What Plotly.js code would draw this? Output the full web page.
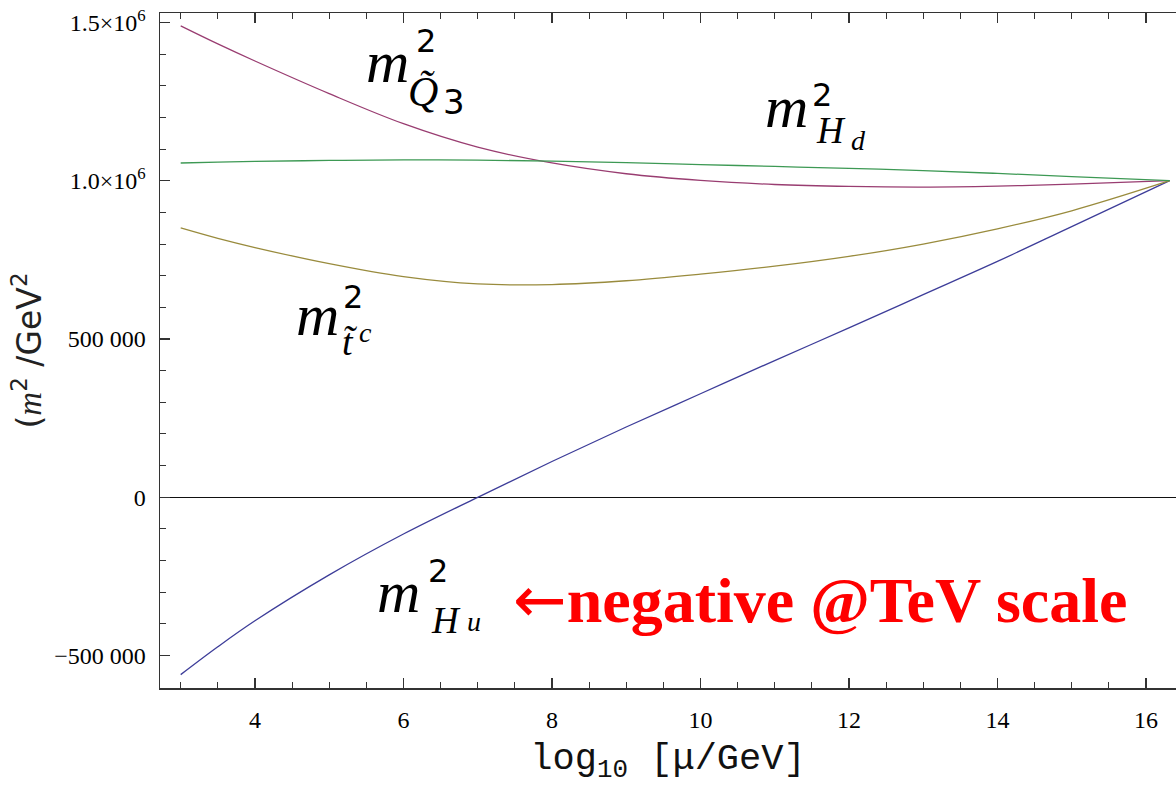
<!DOCTYPE html>
<html>
<head>
<meta charset="utf-8">
<script src="https://cdn.plot.ly/plotly-3.0.1.min.js"></script>
<style>
  html, body { margin: 0; padding: 0; background: #ffffff; }
  #chart { width: 1176px; height: 785px; }
</style>
</head>
<body>
<div id="chart"></div>
<script>
// ---- data ----
const logMu = [3, 3.5, 4, 5, 6, 7, 8, 9, 10, 11, 12, 13, 14, 15, 16.32];
const mHu2  = [-560000, -472000, -390000, -245000, -116000, 0, 113000, 222000, 327000, 432000, 535000, 640000, 745000, 855000, 1000000];
const mQ3   = [1489000, 1432000, 1378000, 1275000, 1180000, 1106000, 1056000, 1022000, 1001000, 988000, 982000, 980000, 983000, 989000, 1000000];
const mTc   = [851000, 818000, 789000, 738000, 697000, 674000, 672000, 684000, 705000, 730000, 761000, 800000, 848000, 905000, 1000000];
const mHd   = [1056000, 1059000, 1061000, 1064000, 1066000, 1065000, 1062000, 1057000, 1051000, 1045000, 1039000, 1032000, 1023000, 1013000, 1000000];

const yTickVals = [-500000, 0, 500000, 1000000, 1500000];
const yTickText = ["\u2212500 000", "0", "500 000", "1.0\u00d710<sup>6</sup>", "1.5\u00d710<sup>6</sup>"];
const xTickVals = [4, 6, 8, 10, 12, 14, 16];
const xTickText = ["4", "6", "8", "10", "12", "14", "16"];

const seriesNames  = ["m_Hu^2", "m_Q3^2", "m_tc^2", "m_Hd^2"];
const seriesValues = [mHu2, mQ3, mTc, mHd];
const seriesColors = ["#3d3d99", "#993d71", "#998b3d", "#3d9954"];

// ---- layout geometry ----
const W = 1176, H = 785;
const M = {l: 160, r: 0, t: 13, b: 97};
const plotW = W - M.l - M.r, plotH = H - M.t - M.b;
function px(x) { return (x - M.l) / plotW; }
function py(y) { return 1 - (y - M.t) / plotH; }

const traces = seriesValues.map((vals, i) => ({
  type: "scatter",
  mode: "lines",
  name: seriesNames[i],
  x: logMu,
  y: vals,
  line: {color: seriesColors[i], width: 1.3, shape: "spline", smoothing: 1},
  hoverinfo: "skip"
}));

const SERIF = "Liberation Serif, Times New Roman, serif";
const SANS = "DejaVu Sans, sans-serif";

function ann(text, x, y, size, family, opts) {
  return Object.assign({
    text: text, xref: "paper", yref: "paper", x: px(x), y: py(y),
    xanchor: "center", yanchor: "middle", showarrow: false,
    font: {family: family, size: size, color: "#000000"}
  }, opts || {});
}
function itAnn(text, x, y, size) {
  return ann(text, x, y, size, SERIF,
             {font: {family: SERIF, size: size, color: "#000000", style: "italic"}});
}

const annotations = [
  // m^2_{Q3~}
  itAnn("m", 387, 62, 60),
  ann("2", 426, 41, 32, SANS),
  itAnn("Q\u0303", 423, 92, 42),
  ann("3", 454, 102, 34, SANS),
  // m^2_{Hd}
  itAnn("m", 786, 107, 60),
  ann("2", 822, 95, 32, SANS),
  itAnn("H", 831, 131, 37),
  itAnn("d", 858, 141, 28),
  // m^2_{t~c}
  itAnn("m", 317, 315, 60),
  ann("2", 353, 297, 32, SANS),
  itAnn("t\u0303", 350, 342, 38),
  itAnn("c", 365, 332, 28),
  // m^2_{Hu}
  itAnn("m", 398, 592, 60),
  ann("2", 438, 571, 32, SANS),
  itAnn("H", 446, 620, 37),
  itAnn("u", 474, 621, 28),
  // red note
  ann("<span style=\"font-family:DejaVu Sans\">\u2190</span><b>negative @TeV scale</b>", 511, 600, 64, SERIF,
      {xanchor: "left", font: {family: SERIF, size: 64, color: "#ff0000"}})
];

const layout = {
  width: W, height: H,
  margin: M,
  paper_bgcolor: "#ffffff",
  plot_bgcolor: "#ffffff",
  showlegend: false,
  xaxis: {
    range: [2.7212, 16.405],
    tickvals: xTickVals, ticktext: xTickText,
    ticks: "inside", ticklen: 10, tickwidth: 1.2, tickcolor: "#333333",
    minor: {dtick: 0.5, tick0: 0, ticks: "inside", ticklen: 6, tickwidth: 1, tickcolor: "#333333"},
    showline: true, linecolor: "#333333", linewidth: 1.5, mirror: "ticks",
    showgrid: false, zeroline: false,
    ticklabelstandoff: 10,
    tickfont: {family: SERIF, size: 24, color: "#000000"},
    title: {text: "log<sub>10</sub> [\u03bc/GeV]", standoff: 16,
            font: {family: "Liberation Mono, Courier New, monospace", size: 37, color: "#111111"}}
  },
  yaxis: {
    range: [-602300, 1529700],
    tickvals: yTickVals, ticktext: yTickText,
    ticks: "inside", ticklen: 10, tickwidth: 1.2, tickcolor: "#333333",
    minor: {dtick: 100000, tick0: 0, ticks: "inside", ticklen: 6, tickwidth: 1, tickcolor: "#333333"},
    showline: true, linecolor: "#333333", linewidth: 1.5, mirror: false,
    showgrid: false,
    zeroline: true, zerolinecolor: "#111111", zerolinewidth: 1.2,
    ticklabelstandoff: 8,
    tickfont: {family: SERIF, size: 24, color: "#000000"},
    title: {text: "(<span style=\"font-family:Liberation Serif;font-style:italic\">m</span><sup>2</sup> /GeV<sup>2</sup>",
            standoff: 2, font: {family: SANS, size: 33, color: "#222222"}}
  },
  annotations: annotations
};

Plotly.newPlot("chart", traces, layout, {staticPlot: true, displayModeBar: false});
</script>
</body>
</html>
